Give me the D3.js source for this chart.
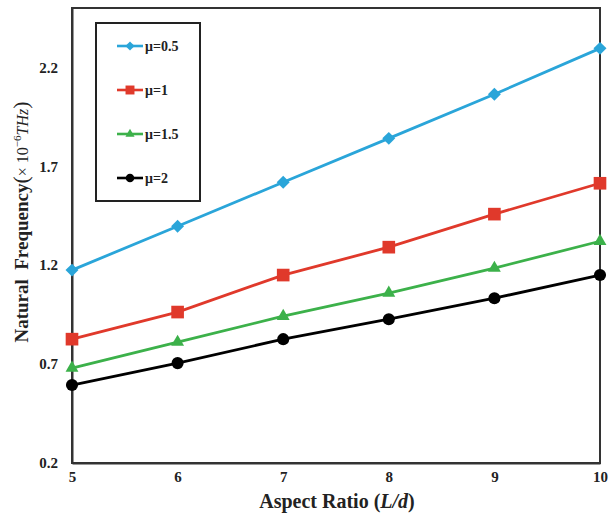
<!DOCTYPE html>
<html>
<head>
<meta charset="utf-8">
<script src="https://cdn.jsdelivr.net/npm/d3@7"></script>
<style>
  html, body { margin: 0; padding: 0; background: #fff; }
  svg { display: block; }
  text { white-space: pre; }
</style>
</head>
<body>
<svg id="chart" width="612" height="518"></svg>
<script>
// Aspect ratios on the x axis
const aspectRatios = [5, 6, 7, 8, 9, 10];
// Natural frequency (×10^-6 THz) for each μ
const mu05 = [1.175, 1.397, 1.619, 1.841, 2.064, 2.296];
const mu1  = [0.826, 0.963, 1.150, 1.291, 1.458, 1.614];
const mu15 = [0.680, 0.811, 0.942, 1.059, 1.185, 1.321];
const mu2  = [0.594, 0.705, 0.826, 0.927, 1.033, 1.150];
const seriesNames = ["μ=0.5", "μ=1", "μ=1.5", "μ=2"];
const yTicks = [0.2, 0.7, 1.2, 1.7, 2.2];
const xTicks = [5, 6, 7, 8, 9, 10];

// Diamond drawn as a square turned 45°
const squareDiamond = {
  draw(ctx, size) {
    const r = Math.sqrt(size / 2);
    ctx.moveTo(0, -r); ctx.lineTo(r, 0); ctx.lineTo(0, r); ctx.lineTo(-r, 0); ctx.closePath();
  }
};

const series = [
  { name: seriesNames[0], values: mu05, color: "#2aa5d9", symbol: squareDiamond,    size: 84 },
  { name: seriesNames[1], values: mu1,  color: "#e0392b", symbol: d3.symbolSquare,   size: 160 },
  { name: seriesNames[2], values: mu15, color: "#3cb14a", symbol: d3.symbolTriangle, size: 72 },
  { name: seriesNames[3], values: mu2,  color: "#000000", symbol: d3.symbolCircle,   size: 115 }
];

const svg = d3.select("#chart");
const plot = { left: 72, right: 600, top: 8, bottom: 463 };

const x = d3.scaleLinear().domain([5, 10]).range([plot.left, plot.right]);
const y = d3.scaleLinear().domain([0.2, 2.5]).range([plot.bottom, plot.top]);

const serif = "'Liberation Serif', 'Times New Roman', serif";

// Plot frame
svg.append("rect")
  .attr("x", plot.left).attr("y", plot.top)
  .attr("width", plot.right - plot.left).attr("height", plot.bottom - plot.top)
  .attr("fill", "none").attr("stroke", "#333").attr("stroke-width", 2);

// Axes (labels only, no tick marks)
const xAxis = d3.axisBottom(x).tickValues(xTicks).tickFormat(d3.format("d")).tickSize(0).tickPadding(8);
const yAxis = d3.axisLeft(y).tickValues(yTicks).tickFormat(d3.format(".1f")).tickSize(0).tickPadding(14);

const gx = svg.append("g").attr("transform", `translate(0,${plot.bottom})`).call(xAxis);
const gy = svg.append("g").attr("transform", `translate(${plot.left},0)`).call(yAxis);
[gx, gy].forEach(g => {
  g.select(".domain").attr("stroke", "#333").attr("stroke-width", 2);
  g.selectAll("text")
    .attr("font-family", serif).attr("font-weight", "bold")
    .attr("font-size", 15).attr("fill", "#222");
});

// Lines and markers
const line = d3.line().x((d, i) => x(aspectRatios[i])).y(d => y(d));
series.forEach(s => {
  svg.append("path")
    .datum(s.values)
    .attr("d", line)
    .attr("fill", "none")
    .attr("stroke", s.color)
    .attr("stroke-width", 2.8);
  svg.append("g").selectAll("path")
    .data(s.values)
    .join("path")
    .attr("transform", (d, i) => `translate(${x(aspectRatios[i])},${y(d)})`)
    .attr("d", d3.symbol().type(s.symbol).size(s.size))
    .attr("fill", s.color);
});

// Legend
const legend = svg.append("g");
legend.append("rect")
  .attr("x", 96).attr("y", 23).attr("width", 104).attr("height", 178)
  .attr("fill", "#fff").attr("stroke", "#222").attr("stroke-width", 2);
series.forEach((s, i) => {
  const ly = 46 + i * 44;
  legend.append("line")
    .attr("x1", 117).attr("x2", 143).attr("y1", ly).attr("y2", ly)
    .attr("stroke", s.color).attr("stroke-width", 2.6);
  legend.append("path")
    .attr("transform", `translate(130,${ly})`)
    .attr("d", d3.symbol().type(s.symbol).size(s.size * 0.5))
    .attr("fill", s.color);
  legend.append("text")
    .attr("x", 145).attr("y", ly + 5)
    .attr("font-family", serif).attr("font-weight", "bold")
    .attr("font-size", 14).attr("fill", "#222")
    .text(s.name);
});

// Axis titles
const xt = svg.append("text")
  .attr("x", 337).attr("y", 508)
  .attr("text-anchor", "middle")
  .attr("font-family", serif).attr("font-weight", "bold")
  .attr("font-size", 20).attr("fill", "#222");
xt.append("tspan").text("Aspect Ratio (");
xt.append("tspan").attr("font-style", "italic").text("L/d");
xt.append("tspan").text(")");

const yt = svg.append("text")
  .attr("transform", "translate(28,222) rotate(-90)")
  .attr("text-anchor", "middle")
  .attr("font-family", serif).attr("fill", "#222");
yt.append("tspan").attr("font-weight", "bold").attr("font-size", 19).text("Natural  Frequency");
yt.append("tspan").attr("font-size", 22).text("(");
yt.append("tspan").attr("font-size", 16).text("× 10");
yt.append("tspan").attr("font-size", 11).attr("dy", -7).text("−6");
yt.append("tspan").attr("font-size", 16).attr("font-style", "italic").attr("dy", 7).text("THz");
yt.append("tspan").attr("font-size", 22).text(")");
</script>
</body>
</html>
